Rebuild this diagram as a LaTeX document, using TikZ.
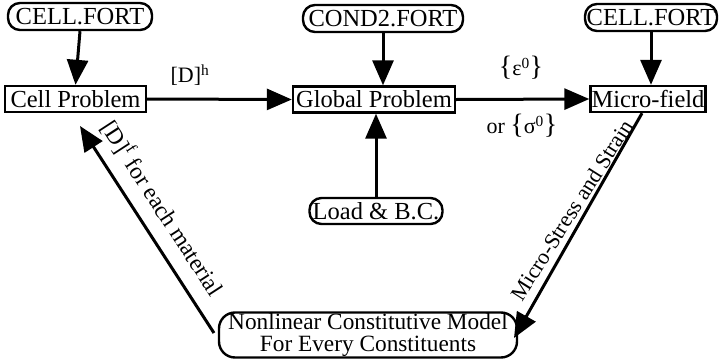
\documentclass[tikz,border=0pt]{standalone}
\usepackage{fontspec}
\setmainfont{Liberation Serif}
\usetikzlibrary{arrows.meta}
\begin{document}
\begin{tikzpicture}[x=1pt,y=-1pt,
  rbox/.style={draw,line width=2.4pt,rounded corners=12pt,inner sep=0pt,font=\fontsize{24.5}{23}\selectfont},
  sbox/.style={draw,line width=2.4pt,inner sep=0pt,font=\fontsize{24.5}{23}\selectfont},
  flow/.style={line width=3pt,-{Triangle[length=25pt,width=21pt]}},
  lab/.style={font=\fontsize{22}{24}\selectfont,inner sep=0pt}]
\useasboundingbox (0,0) rectangle (724,362);
\node[rbox,minimum width=144pt,minimum height=27pt] (cf1) at (80,16.5) {CELL.FORT};
\node[sbox,minimum width=141pt,minimum height=26pt] (cell) at (75.5,99) {Cell Problem};
\node[rbox,minimum width=160pt,minimum height=27pt] (cond) at (383,18.5) {COND2.FORT};
\node[sbox,minimum width=162pt,minimum height=26pt] (glob) at (374,99.5) {Global Problem};
\node[rbox,minimum width=132pt,minimum height=27pt] (cf2) at (651,17.5) {CELL.FORT};
\node[sbox,minimum width=115pt,minimum height=26pt] (micro) at (648,99) {Micro-field};
\node[rbox,minimum width=133pt,minimum height=26pt] (load) at (376,211) {Load \& B.C.};
\node[rbox,minimum width=298pt,minimum height=45pt,align=center,rounded corners=16pt,
  font=\fontsize{23.3}{22}\selectfont] (nl) at (368,335)
  {Nonlinear Constitutive Model\\For Every Constituents};
\coordinate (nlr) at (514,338);
\coordinate (nll) at (214,333);
\draw[flow] (cf1.south) -- (cell.north);
\draw[flow] (cond.south) -- (cond.south|-glob.north);
\draw[flow] (cf2.south) -- (cf2.south|-micro.north);
\draw[flow] (load.north) -- (load.north|-glob.south);
\draw[flow] (cell.east) -- (glob.west);
\draw[flow] (glob.east) -- (micro.west);
\draw[flow] (micro.south) ++(-6,0) coordinate (ms) (ms) -- (nlr);
\draw[flow] (nll) -- (80,126) coordinate (ct);
\node[lab] (dh) at (190,75) {[D]\textsuperscript{h}};
\node[lab] (eps) at (521,68) {{\fontsize{28}{28}\selectfont\{}ε\textsuperscript{0}{\fontsize{28}{28}\selectfont\}}};
\node[lab] (sig) at (522,126) {or {\fontsize{28}{28}\selectfont\{}σ\textsuperscript{0}{\fontsize{28}{28}\selectfont\}}};
\node[lab,font=\fontsize{23.5}{25}\selectfont,rotate=-57] (df) at (163,208) {[D]\textsuperscript{f} for each material};
\node[lab,rotate=57.7] (mss) at (572,210) {Micro-Stress and Strain};
\end{tikzpicture}
\end{document}
